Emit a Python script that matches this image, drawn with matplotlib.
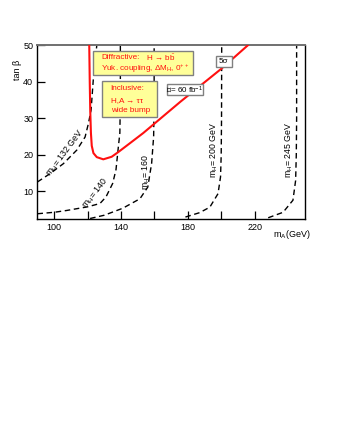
import matplotlib
matplotlib.use("Agg")
import matplotlib.pyplot as plt
from matplotlib.patches import Rectangle

plt.rcParams['font.family'] = ['Liberation Sans', 'DejaVu Sans']
plt.rcParams['mathtext.fontset'] = 'custom'
plt.rcParams['mathtext.rm'] = 'Liberation Sans'
plt.rcParams['mathtext.it'] = 'Liberation Sans:italic'
plt.rcParams['mathtext.bf'] = 'Liberation Sans:bold'
plt.rcParams['mathtext.sf'] = 'Liberation Sans'

# ---- data (mA in GeV, tan beta) --------------------------------------
red_ma  = [121.0, 121.3, 121.6, 122.0, 122.5, 123.5, 125.5, 129.4, 134.4,
           138.4, 145.3, 153.3, 175.6, 200.0, 215.8]
red_tb  = [50.0, 40.0, 32.0, 26.0, 22.5, 20.5, 19.4, 18.8, 19.5,
           20.8, 23.2, 26.0, 34.6, 43.6, 50.0]

mh132_ma = [90.0, 97.6, 105.5, 113.5, 118.5, 120.5, 122.1, 123.4, 125.5]
mh132_tb = [12.6, 14.9, 17.6, 21.3, 24.9, 28.6, 32.3, 40.5, 50.0]

mh140_ma = [90.0, 100.0, 107.5, 120.0, 127.4, 131.0, 135.0, 137.0, 138.4, 139.3, 139.6, 139.6]
mh140_tb = [3.9, 4.3, 4.8, 5.8, 6.7, 8.5, 12.2, 16.0, 22.2, 26.0, 35.0, 50.0]

mh160_ma = [121.5, 130.0, 141.0, 151.3, 156.0, 158.3, 159.5, 159.8, 159.8]
mh160_tb = [2.6, 3.5, 5.4, 8.0, 11.2, 17.7, 25.0, 35.0, 50.0]

mh200_ma = [178.5, 187.0, 193.1, 198.0, 199.5, 199.9, 200.1, 200.2]
mh200_tb = [3.0, 4.2, 5.7, 9.4, 14.0, 20.0, 30.0, 50.0]

mh245_ma = [228.0, 236.9, 242.8, 244.4, 244.8, 245.0, 245.0]
mh245_tb = [2.8, 4.3, 7.6, 13.0, 20.0, 30.0, 50.0]

x_ticks = [100, 120, 140, 160, 180, 200, 220]
x_labels = ["100", "", "140", "", "180", "", "220"]
y_ticks = [10, 20, 30, 40, 50]

# ---- figure ---------------------------------------------------------
fig = plt.figure(figsize=(3.37, 4.36), dpi=100)
ax = fig.add_axes([0.111, 0.498, 0.794, 0.398])

ax.set_xlim(90, 250)
ax.set_ylim(2.5, 50)

dash = dict(color="black", linewidth=1.0, linestyle=(0, (4, 2.6)))
for xs, ys in [(mh132_ma, mh132_tb), (mh140_ma, mh140_tb), (mh160_ma, mh160_tb),
               (mh200_ma, mh200_tb), (mh245_ma, mh245_tb)]:
    ax.plot(xs, ys, **dash, zorder=2)

ax.plot(red_ma, red_tb, color="#ff1010", linewidth=1.5, zorder=3,
        solid_joinstyle="round")

# ---- m_H labels ------------------------------------------------------
lab = dict(fontsize=6.3, color="black", ha="center", va="center")
ax.text(106.5, 20.6, r"m$_\mathrm{H}$= 132 GeV", rotation=53, **lab)
ax.text(124.9, 9.6, r"m$_\mathrm{H}$= 140", rotation=52, **lab)
ax.text(155.3, 15.2, r"m$_\mathrm{H}$= 160", rotation=90, **lab)
ax.text(196.0, 21.4, r"m$_\mathrm{H}$= 200 GeV", rotation=90, **lab)
ax.text(240.6, 21.4, r"m$_\mathrm{H}$= 245 GeV", rotation=90, **lab)

# ---- boxes -----------------------------------------------------------
def box(x0, y0, x1, y1, fc):
    ax.add_patch(Rectangle((x0, y0), x1 - x0, y1 - y0, transform=ax.transAxes,
                           facecolor=fc, edgecolor="#808080", linewidth=1.0,
                           zorder=5))

red_txt = dict(fontsize=5.9, color="#ff1010", transform=ax.transAxes,
               ha="left", va="center", zorder=6)

box(0.207, 0.830, 0.583, 0.970, "#ffff99")
ax.text(0.239, 0.928, "Diffractive:", **red_txt)
ax.text(0.407, 0.928, r"H → b$\mathrm{\bar{b}}$", **red_txt)
ax.text(0.239, 0.866, r"Yuk. coupling, ΔM$_\mathrm{H}$, 0$^{++}$", **red_txt)

box(0.243, 0.586, 0.446, 0.797, "#ffff99")
ax.text(0.274, 0.750, "Inclusive:", **red_txt)
ax.text(0.274, 0.683, "H,A → ττ", **red_txt)
ax.text(0.274, 0.622, "wide bump", **red_txt)

box(0.667, 0.874, 0.726, 0.939, "white")
ax.text(0.6965, 0.906, "5σ", fontsize=5.8, color="black", ha="center",
        va="center", transform=ax.transAxes, zorder=6)

box(0.483, 0.711, 0.620, 0.778, "white")
ax.text(0.5515, 0.744, r"ℒ= 60 fb$^{-1}$", fontsize=5.8, color="black",
        ha="center", va="center", transform=ax.transAxes, zorder=6)

# ---- axes styling ----------------------------------------------------
ax.set_xticks(x_ticks)
ax.set_xticklabels(x_labels)
ax.set_yticks(y_ticks)
ax.tick_params(direction="in", length=6, width=0.9, labelsize=6.5, pad=3)
for side in ["left", "bottom", "right"]:
    ax.spines[side].set_linewidth(1.0)
ax.spines["top"].set_color("#707070")
ax.spines["top"].set_linewidth(1.4)

ax.set_ylabel("tan β", fontsize=6.5)
ax.yaxis.set_label_coords(-0.058, 0.86)
fig.text(0.81, 0.463, r"m$_\mathrm{A}$(GeV)", fontsize=6.5, ha="left", va="center")

fig.savefig("out.png", dpi=100)
